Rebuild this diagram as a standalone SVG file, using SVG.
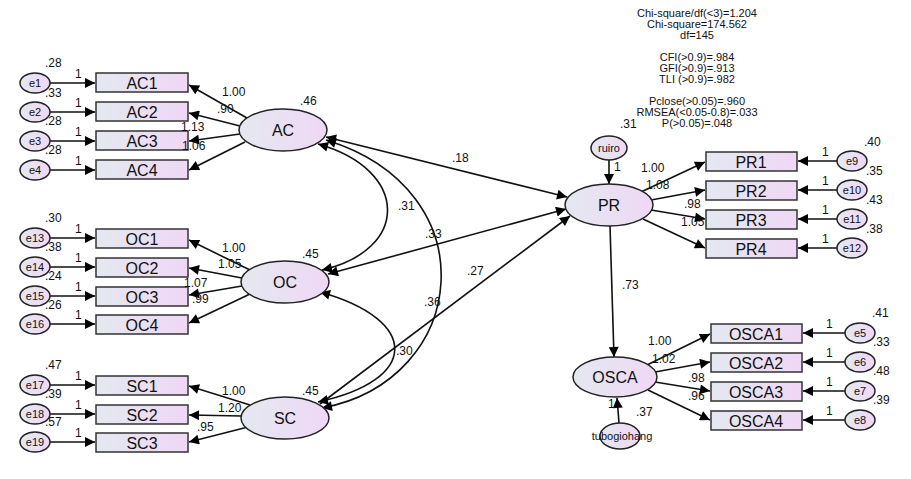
<svg xmlns="http://www.w3.org/2000/svg" width="911" height="479" viewBox="0 0 911 479">
<defs>
<linearGradient id="g" x1="0" x2="1"><stop offset="0" stop-color="#e4e8f0"/><stop offset="1" stop-color="#efd8f5"/></linearGradient>
<marker id="a" viewBox="0 0 10 10" refX="10" refY="5" markerWidth="7" markerHeight="7" markerUnits="userSpaceOnUse" orient="auto-start-reverse"><path d="M0,0L10,5L0,10z" fill="#000"/></marker>
<style>
.b{fill:url(#g);stroke:#333;stroke-width:1.5}
.o{fill:url(#g);stroke:#222;stroke-width:1.5}
text{font-family:"Liberation Sans",Arial,sans-serif;fill:#111}
.t{font-size:16px;text-anchor:middle}
.e{font-size:11px;text-anchor:middle}
.n{font-size:12px}
.s{font-size:11px;text-anchor:middle}
#c path,#c line{stroke:#111;stroke-width:1.6;fill:none;marker-end:url(#a)}
</style>
<marker id="m" viewBox="0 0 10 10" refX="10" refY="5" markerWidth="14" markerHeight="10" markerUnits="userSpaceOnUse" orient="auto-start-reverse"><path d="M0,0L10,5L0,10z"/></marker>
</defs>
<g id="fit"><text class="s" x="697" y="17">Chi-square/df(&lt;3)=1.204</text><text class="s" x="697" y="28">Chi-square=174.562</text><text class="s" x="697" y="39">df=145</text><text class="s" x="697" y="61">CFI(&gt;0.9)=.984</text><text class="s" x="697" y="72">GFI(&gt;0.9)=.913</text><text class="s" x="697" y="83">TLI (&gt;0.9)=.982</text><text class="s" x="697" y="105">Pclose(&gt;0.05)=.960</text><text class="s" x="697" y="116">RMSEA(&lt;0.05-0.8)=.033</text><text class="s" x="697" y="127">P(&gt;0.05)=.048</text></g>
<g id="c">
<line x1="50" y1="83" x2="95" y2="83" style="marker-end:url(#m)"/><line x1="50" y1="112" x2="95" y2="112" style="marker-end:url(#m)"/><line x1="50" y1="141" x2="95" y2="141" style="marker-end:url(#m)"/><line x1="50" y1="170" x2="95" y2="170" style="marker-end:url(#m)"/>
<line x1="50" y1="238" x2="95" y2="238" style="marker-end:url(#m)"/><line x1="50" y1="267" x2="95" y2="267" style="marker-end:url(#m)"/><line x1="50" y1="296" x2="95" y2="296" style="marker-end:url(#m)"/><line x1="50" y1="324" x2="95" y2="324" style="marker-end:url(#m)"/>
<line x1="50" y1="385" x2="95" y2="385" style="marker-end:url(#m)"/><line x1="50" y1="414" x2="95" y2="414" style="marker-end:url(#m)"/><line x1="50" y1="442" x2="95" y2="442" style="marker-end:url(#m)"/>
<line x1="247" y1="118" x2="189" y2="85" style="marker-end:url(#m)"/><line x1="240" y1="126" x2="189" y2="113" style="marker-end:url(#m)"/><line x1="240" y1="134" x2="189" y2="141" style="marker-end:url(#m)"/><line x1="245" y1="142" x2="189" y2="170" style="marker-end:url(#m)"/>
<line x1="250" y1="270" x2="189" y2="240" style="marker-end:url(#m)"/><line x1="242" y1="278" x2="189" y2="268" style="marker-end:url(#m)"/><line x1="242" y1="286" x2="189" y2="295" style="marker-end:url(#m)"/><line x1="250" y1="294" x2="189" y2="323" style="marker-end:url(#m)"/>
<line x1="250" y1="405" x2="189" y2="386" style="marker-end:url(#m)"/><line x1="242" y1="416" x2="189" y2="415" style="marker-end:url(#m)"/><line x1="248" y1="427" x2="189" y2="442" style="marker-end:url(#m)"/>
<line x1="326" y1="137" x2="567" y2="197" style="marker-start:url(#m);marker-end:url(#m)"/>
<line x1="328" y1="274" x2="566" y2="209" style="marker-start:url(#m);marker-end:url(#m)"/>
<line x1="320" y1="404" x2="570" y2="216" style="marker-end:url(#m)"/>
<path d="M318,144 C410,170 410,250 322,270" style="marker-start:url(#m);marker-end:url(#m)"/>
<path d="M326,140 C490,190 470,380 322,408" style="marker-start:url(#m);marker-end:url(#m)"/>
<path d="M320,292 C420,320 420,380 318,402" style="marker-start:url(#m);marker-end:url(#m)"/>
<line x1="609" y1="160" x2="609" y2="184" style="marker-end:url(#m)"/>
<line x1="610" y1="226" x2="614" y2="357" style="marker-end:url(#m)"/>
<line x1="641" y1="192" x2="705" y2="162" style="marker-end:url(#m)"/><line x1="651" y1="200" x2="705" y2="190" style="marker-end:url(#m)"/><line x1="651" y1="210" x2="705" y2="219" style="marker-end:url(#m)"/><line x1="643" y1="219" x2="705" y2="248" style="marker-end:url(#m)"/>
<line x1="837" y1="161" x2="798" y2="161" style="marker-end:url(#m)"/><line x1="837" y1="190" x2="798" y2="190" style="marker-end:url(#m)"/><line x1="837" y1="219" x2="798" y2="219" style="marker-end:url(#m)"/><line x1="837" y1="248" x2="798" y2="248" style="marker-end:url(#m)"/>
<line x1="647" y1="365" x2="710" y2="334" style="marker-end:url(#m)"/><line x1="655" y1="372" x2="710" y2="362" style="marker-end:url(#m)"/><line x1="655" y1="382" x2="710" y2="391" style="marker-end:url(#m)"/><line x1="648" y1="390" x2="710" y2="420" style="marker-end:url(#m)"/>
<line x1="845" y1="333" x2="803" y2="333" style="marker-end:url(#m)"/><line x1="845" y1="362" x2="803" y2="362" style="marker-end:url(#m)"/><line x1="845" y1="391" x2="803" y2="391" style="marker-end:url(#m)"/><line x1="845" y1="420" x2="803" y2="420" style="marker-end:url(#m)"/>
<line x1="619" y1="423" x2="617" y2="398" style="marker-end:url(#m)"/>
</g>
<g id="boxes">
<rect class="b" x="96" y="73" width="92" height="19"/><text class="t" x="142" y="89">AC1</text>
<rect class="b" x="96" y="102" width="92" height="19"/><text class="t" x="142" y="118">AC2</text>
<rect class="b" x="96" y="131" width="92" height="19"/><text class="t" x="142" y="147">AC3</text>
<rect class="b" x="96" y="160" width="92" height="19"/><text class="t" x="142" y="176">AC4</text>
<rect class="b" x="96" y="229" width="92" height="19"/><text class="t" x="142" y="245">OC1</text>
<rect class="b" x="96" y="258" width="92" height="19"/><text class="t" x="142" y="274">OC2</text>
<rect class="b" x="96" y="287" width="92" height="19"/><text class="t" x="142" y="303">OC3</text>
<rect class="b" x="96" y="315" width="92" height="19"/><text class="t" x="142" y="331">OC4</text>
<rect class="b" x="96" y="376" width="92" height="19"/><text class="t" x="142" y="392">SC1</text>
<rect class="b" x="96" y="405" width="92" height="19"/><text class="t" x="142" y="421">SC2</text>
<rect class="b" x="96" y="433" width="92" height="19"/><text class="t" x="142" y="449">SC3</text>
<rect class="b" x="706" y="152" width="91" height="19"/><text class="t" x="751" y="168">PR1</text>
<rect class="b" x="706" y="181" width="91" height="19"/><text class="t" x="751" y="197">PR2</text>
<rect class="b" x="706" y="210" width="91" height="19"/><text class="t" x="751" y="226">PR3</text>
<rect class="b" x="706" y="239" width="91" height="19"/><text class="t" x="751" y="255">PR4</text>
<rect class="b" x="711" y="324" width="91" height="19"/><text class="t" x="756" y="340">OSCA1</text>
<rect class="b" x="711" y="353" width="91" height="19"/><text class="t" x="756" y="369">OSCA2</text>
<rect class="b" x="711" y="382" width="91" height="19"/><text class="t" x="756" y="398">OSCA3</text>
<rect class="b" x="711" y="411" width="91" height="19"/><text class="t" x="756" y="427">OSCA4</text>
</g>
<g id="latent">
<ellipse class="o" cx="283" cy="130" rx="44" ry="21"/><text class="t" x="283" y="136">AC</text>
<ellipse class="o" cx="285" cy="282" rx="44" ry="21"/><text class="t" x="285" y="288">OC</text>
<ellipse class="o" cx="285" cy="418" rx="44" ry="21"/><text class="t" x="285" y="424">SC</text>
<ellipse class="o" cx="609" cy="205" rx="44" ry="21"/><text class="t" x="609" y="211">PR</text>
<ellipse class="o" cx="615" cy="377" rx="42" ry="20"/><text class="t" x="615" y="383">OSCA</text>
</g>
<g id="errors">
<ellipse class="o" cx="35" cy="83" rx="15" ry="10"/><text class="e" x="35" y="87">e1</text>
<ellipse class="o" cx="35" cy="112" rx="15" ry="10"/><text class="e" x="35" y="116">e2</text>
<ellipse class="o" cx="35" cy="141" rx="15" ry="10"/><text class="e" x="35" y="145">e3</text>
<ellipse class="o" cx="35" cy="170" rx="15" ry="10"/><text class="e" x="35" y="174">e4</text>
<ellipse class="o" cx="35" cy="238" rx="15" ry="10"/><text class="e" x="35" y="242">e13</text>
<ellipse class="o" cx="35" cy="267" rx="15" ry="10"/><text class="e" x="35" y="271">e14</text>
<ellipse class="o" cx="35" cy="296" rx="15" ry="10"/><text class="e" x="35" y="300">e15</text>
<ellipse class="o" cx="35" cy="324" rx="15" ry="10"/><text class="e" x="35" y="328">e16</text>
<ellipse class="o" cx="35" cy="385" rx="15" ry="10"/><text class="e" x="35" y="389">e17</text>
<ellipse class="o" cx="35" cy="414" rx="15" ry="10"/><text class="e" x="35" y="418">e18</text>
<ellipse class="o" cx="35" cy="442" rx="15" ry="10"/><text class="e" x="35" y="446">e19</text>
<ellipse class="o" cx="852" cy="161" rx="15" ry="10"/><text class="e" x="852" y="165">e9</text>
<ellipse class="o" cx="852" cy="190" rx="15" ry="10"/><text class="e" x="852" y="194">e10</text>
<ellipse class="o" cx="852" cy="219" rx="15" ry="10"/><text class="e" x="852" y="223">e11</text>
<ellipse class="o" cx="852" cy="248" rx="15" ry="10"/><text class="e" x="852" y="252">e12</text>
<ellipse class="o" cx="860" cy="333" rx="15" ry="10"/><text class="e" x="860" y="337">e5</text>
<ellipse class="o" cx="860" cy="362" rx="15" ry="10"/><text class="e" x="860" y="366">e6</text>
<ellipse class="o" cx="860" cy="391" rx="15" ry="10"/><text class="e" x="860" y="395">e7</text>
<ellipse class="o" cx="860" cy="420" rx="15" ry="10"/><text class="e" x="860" y="424">e8</text>
<ellipse class="o" cx="609" cy="148" rx="18" ry="12"/><text class="e" x="609" y="152">ruiro</text>
<ellipse class="o" cx="620" cy="436" rx="20" ry="13"/><text class="e" x="622" y="440">tubogiohang</text>
</g>
<g id="labels" class="n">
<text x="45" y="67">.28</text><text x="45" y="97">.33</text><text x="45" y="125">.28</text><text x="45" y="154">.28</text>
<text x="75" y="78">1</text><text x="75" y="107">1</text><text x="75" y="136">1</text><text x="75" y="165">1</text>
<text x="222" y="96">1.00</text><text x="217" y="113">.90</text><text x="181" y="131">1.13</text><text x="182" y="150">1.06</text><text x="300" y="105">.46</text>
<text x="45" y="222">.30</text><text x="45" y="251">.38</text><text x="45" y="280">.24</text><text x="45" y="309">.26</text>
<text x="75" y="233">1</text><text x="75" y="262">1</text><text x="75" y="291">1</text><text x="75" y="319">1</text>
<text x="222" y="252">1.00</text><text x="218" y="268">1.05</text><text x="184" y="287">1.07</text><text x="192" y="303">.99</text><text x="302" y="258">.45</text>
<text x="45" y="369">.47</text><text x="45" y="398">.39</text><text x="45" y="426">.57</text>
<text x="75" y="380">1</text><text x="75" y="409">1</text><text x="75" y="437">1</text>
<text x="222" y="395">1.00</text><text x="218" y="412">1.20</text><text x="197" y="431">.95</text><text x="302" y="395">.45</text>
<text x="452" y="162">.18</text><text x="398" y="210">.31</text><text x="425" y="238">.33</text><text x="467" y="275">.27</text><text x="424" y="306">.36</text><text x="396" y="355">.30</text>
<text x="620" y="128">.31</text><text x="614" y="171">1</text>
<text x="641" y="172">1.00</text><text x="646" y="189">1.08</text><text x="684" y="208">.98</text><text x="681" y="226">1.05</text>
<text x="822" y="156">1</text><text x="822" y="185">1</text><text x="822" y="214">1</text><text x="822" y="243">1</text>
<text x="864" y="146">.40</text><text x="866" y="175">.35</text><text x="866" y="204">.43</text><text x="866" y="233">.38</text>
<text x="622" y="289">.73</text>
<text x="648" y="345">1.00</text><text x="652" y="363">1.02</text><text x="688" y="382">.98</text><text x="688" y="400">.96</text>
<text x="826" y="328">1</text><text x="826" y="357">1</text><text x="826" y="386">1</text><text x="826" y="415">1</text>
<text x="872" y="317">.41</text><text x="873" y="346">.33</text><text x="873" y="375">.48</text><text x="873" y="404">.39</text>
<text x="608" y="408">1</text><text x="636" y="416">.37</text>
</g>
</svg>
